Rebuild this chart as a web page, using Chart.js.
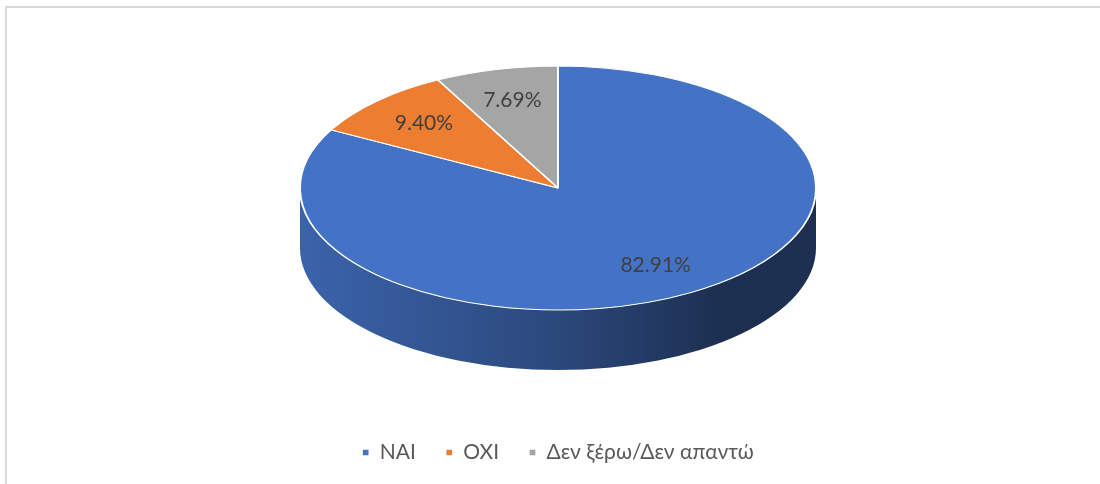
<!DOCTYPE html>
<html>
<head>
<meta charset="utf-8">
<script src="https://cdn.jsdelivr.net/npm/chart.js@4/dist/chart.umd.min.js"></script>
<style>
  html, body { margin: 0; padding: 0; background: #fff; }
  #wrap { position: relative; width: 1100px; height: 484px; overflow: hidden; }
  #frame {
    position: absolute; left: 5px; top: 6px; right: -10px; bottom: -10px;
    border-top: 2px solid #d9d9d9; border-left: 2px solid #d9d9d9;
    pointer-events: none;
  }
</style>
</head>
<body>
<div id="wrap">
  <canvas id="chart" width="1100" height="484"></canvas>
  <div id="frame"></div>
</div>
<script>
// data
var categories = ['NAI', 'OXI', 'Δεν ξέρω/Δεν απαντώ'];
var percentages = [82.91, 9.40, 7.69];
var sliceColors = ['#4472C4', '#ED7D31', '#A5A5A5'];

// darken a #rrggbb colour by factor f
function shade(hex, f) {
    var n = parseInt(hex.slice(1), 16);
    var r = Math.round(((n >> 16) & 255) * f);
    var g = Math.round(((n >> 8) & 255) * f);
    var b = Math.round((n & 255) * f);
    return 'rgb(' + r + ',' + g + ',' + b + ')';
}

// squashes the pie into an ellipse and adds the side wall, like Excel's 3-D pie
var tiltPlugin = {
    id: 'tilt3d',
    beforeDatasetsDraw: function (chart, args, opts) {
        var arcs = chart.getDatasetMeta(0).data;
        if (!arcs.length) return;
        var ctx = chart.ctx;
        var cx = arcs[0].x, cy = arcs[0].y, r = arcs[0].outerRadius;
        var ex = cx, ey = chart.chartArea.top + opts.ry;
        chart.$tilt = { ex: ex, ey: ey };

        arcs.forEach(function (arc, i) {
            for (var k = -1; k <= 1; k++) {
                var lo = Math.max(arc.startAngle, k * 2 * Math.PI);
                var hi = Math.min(arc.endAngle, k * 2 * Math.PI + Math.PI);
                if (hi <= lo) continue;
                var base = sliceColors[i];
                var grad = ctx.createLinearGradient(ex - opts.rx, 0, ex + opts.rx, 0);
                grad.addColorStop(0, shade(base, 0.87));
                grad.addColorStop(0.5, shade(base, 0.63));
                grad.addColorStop(0.82, shade(base, 0.41));
                grad.addColorStop(1, shade(base, 0.42));
                ctx.beginPath();
                ctx.ellipse(ex, ey, opts.rx, opts.ry, 0, lo, hi);
                ctx.ellipse(ex, ey + opts.depth, opts.rx, opts.ry, 0, hi, lo, true);
                ctx.closePath();
                ctx.fillStyle = grad;
                ctx.fill();
            }
        });

        ctx.save();
        ctx.translate(ex, ey);
        ctx.scale(opts.rx / r, opts.ry / r);
        ctx.translate(-cx, -cy);
    },
    afterDatasetsDraw: function (chart, args, opts) {
        var ctx = chart.ctx;
        var arcs = chart.getDatasetMeta(0).data;
        if (!arcs.length) return;
        ctx.restore();
        var ex = chart.$tilt.ex, ey = chart.$tilt.ey;
        var values = chart.data.datasets[0].data;
        var total = values.reduce(function (a, b) { return a + b; }, 0);

        ctx.save();
        ctx.font = opts.labelFont;
        ctx.fillStyle = '#404040';
        ctx.textAlign = 'center';
        ctx.textBaseline = 'middle';
        arcs.forEach(function (arc, i) {
            var mid = (arc.startAngle + arc.endAngle) / 2;
            var x = ex + opts.rx * opts.labelPos * Math.cos(mid);
            var y = ey + opts.ry * opts.labelPos * Math.sin(mid);
            ctx.fillText((values[i] / total * 100).toFixed(2) + '%', x, y);
        });
        ctx.restore();
    }
};

new Chart(document.getElementById('chart').getContext('2d'), {
    type: 'pie',
    data: {
        labels: categories,
        datasets: [{
            data: percentages,
            backgroundColor: sliceColors,
            borderColor: '#ffffff',
            borderWidth: 1.3
        }]
    },
    options: {
        responsive: false,
        animation: false,
        layout: { padding: { top: 66, left: 16, right: 0, bottom: 11 } },
        plugins: {
            tooltip: { enabled: false },
            legend: {
                position: 'bottom',
                labels: {
                    boxWidth: 7,
                    boxHeight: 7,
                    padding: 30,
                    color: '#595959',
                    font: { family: 'Lato', size: 21 }
                }
            },
            tilt3d: { rx: 258, ry: 122, depth: 60, labelPos: 0.74, labelFont: '21px Lato' }
        }
    },
    plugins: [tiltPlugin]
});
</script>
</body>
</html>
